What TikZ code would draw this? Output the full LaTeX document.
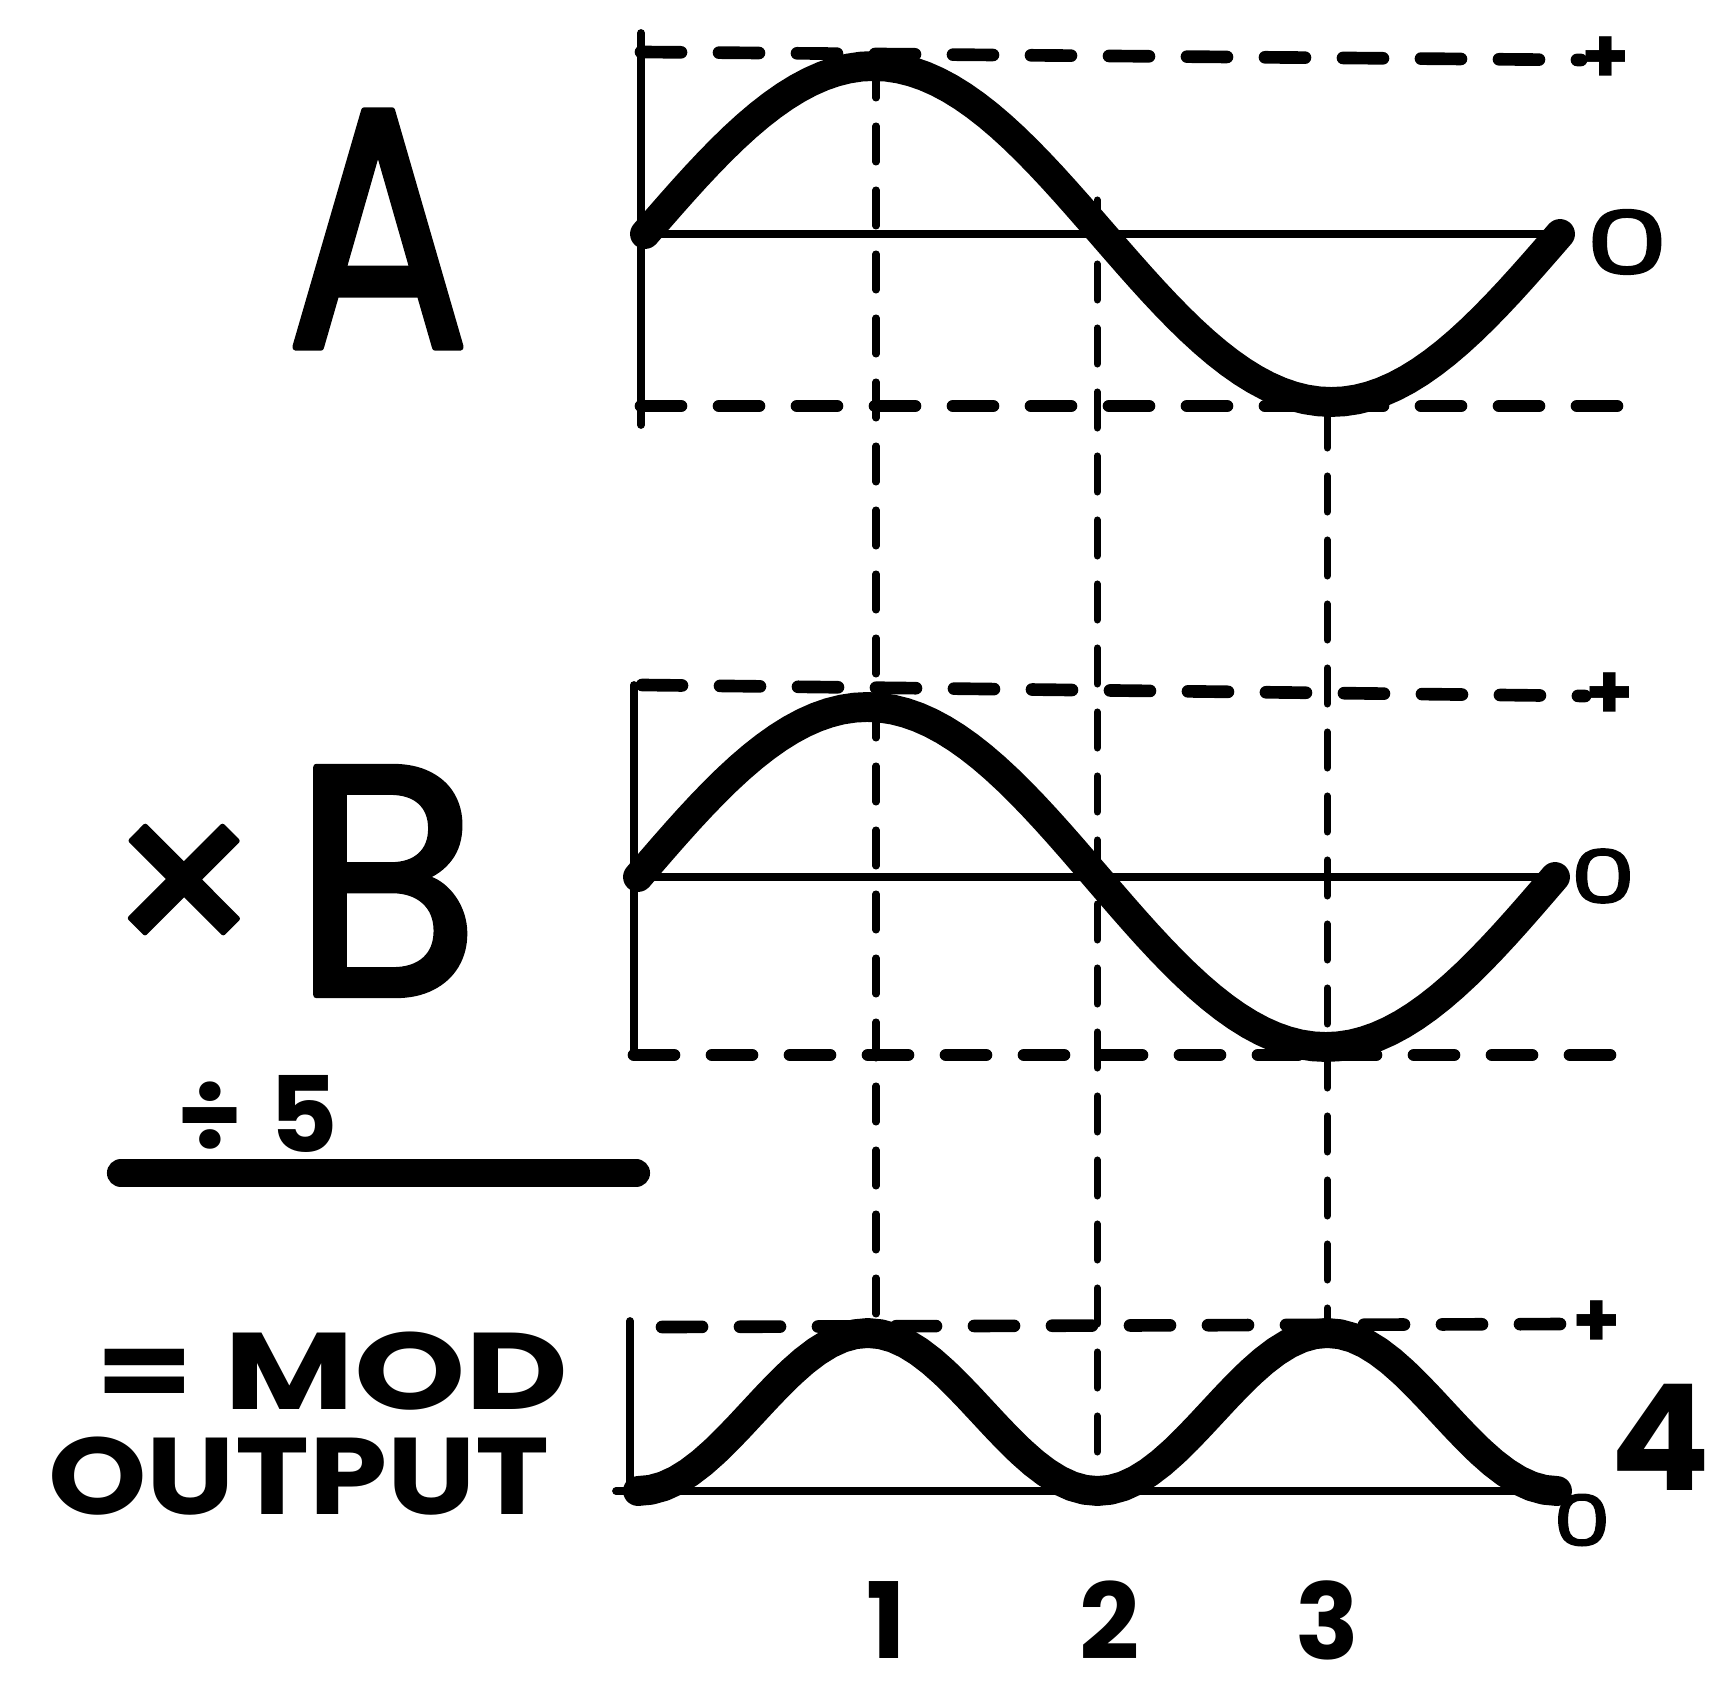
\documentclass[tikz,border=0pt]{standalone}
\usepackage{fontspec}
\setmainfont{Poppins}
\newfontfamily\penfont{Poppins}[FakeBold=2]
\usetikzlibrary{positioning}
\tikzset{
  every picture/.style={x=0.1mm, y=-0.1mm, line cap=round, line join=round},
  wave/.style={line width=8.5pt},
  axis/.style={line width=2.2pt},
  level/.style={line width=3.6pt, dash pattern=on 4mm off 3.8mm},
  guide/.style={line width=2pt, dash pattern=on 3.6mm off 2.8mm},
  sign/.style={font=\bfseries\fontsize{22}{24}\selectfont, inner sep=0pt},
  zero/.style={font=\penfont\fontsize{#1}{#1}\selectfont, inner sep=0pt},
  hand/.style={font=\bfseries\fontsize{31}{34}\selectfont, inner sep=0pt},
}

\begin{document}
\begin{tikzpicture}[
  big/.style={font=\penfont\fontsize{#1}{#1}\selectfont, inner sep=0pt},
  num/.style={font=\bfseries\fontsize{30}{32}\selectfont, inner sep=0pt}]
  \useasboundingbox (0,0) rectangle (1719,1694);
  % left side labels
  \node[big=97] (a) at (378,229) {\scalebox{0.8}[1]{A}};
  \node[big=70] (x) at (184,898) {×};
  \node[big=93] (b) at (386,881) {\scalebox{0.93}[1]{B}};
  \node[hand, font=\bfseries\fontsize{30}{32}\selectfont] (d) at (258,1114) {÷\kern8pt5};
  \draw[line width=8pt] (121,1173) -- (636,1173);
  \node[hand] (m) at (332,1371) {\scalebox{1.3}[1]{= MOD}};
  \node[hand] (o) at (299,1476) {\scalebox{1.15}[1]{OUTPUT}};
  % end marks
  \node[sign] (pa) at (1606,60) {+};
  \node[zero=25] (za) at (1627,242) {\scalebox{1.5}[1]{0}};
  \node[sign] (pb) at (1610,696) {+};
  \node[zero=21] (zb) at (1603,876) {\scalebox{1.4}[1]{0}};
  \node[sign] (pm) at (1597,1324) {+};
  \node[zero=20] (zm) at (1582,1520) {\scalebox{1.3}[1]{0}};
  \node[hand, font=\bfseries\fontsize{42}{44}\selectfont] (four) at (1660,1437) {4};
  \node[num] (n1) at (886,1620) {1};
  \node[num] (n2) at (1110,1620) {2};
  \node[num] (n3) at (1327,1620) {3};
  % panel A
  \draw[axis] (641,33) -- (641,425);
  \draw[level] (641,52) -- (pa.west);
  \draw[axis] (641,234) -- (1562,234);
  \draw[level] (641,406) -- (1617,406);
  % panel B
  \draw[axis] (634,685) -- (634,1055);
  \draw[level] (642,685) -- (pb.west);
  \draw[axis] (634,877) -- (1557,877);
  \draw[level] (634,1055) -- (1618,1055);
  % panel MOD
  \draw[axis] (630,1321) -- (630,1493);
  \draw[level] (662,1327) -- (pm.west);
  \draw[axis] (616,1491) -- (1557,1491);
  % guides
  \coordinate (g1) at (876,62);    \coordinate (h1) at (876,1327);
  \coordinate (g2) at (1097,200);  \coordinate (h2) at (1097,1488);
  \coordinate (g3) at (1327,412);  \coordinate (h3) at (1327,1327);
  \draw[guide] (g1) -- (h1);
  \draw[guide] (g2) -- (h2);
  \draw[guide] (g3) -- (h3);
  % waves
  \draw[wave] plot[domain=0:360, samples=73] ({645+\x/360*915}, {234-168*sin(\x)});
  \draw[wave] plot[domain=0:360, samples=73] ({638+\x/360*917}, {877-170*sin(\x)});
  \draw[wave] plot[domain=0:360, samples=73] ({638+\x/360*919}, {1491-158*sin(\x)*sin(\x)});
\end{tikzpicture}
\end{document}
